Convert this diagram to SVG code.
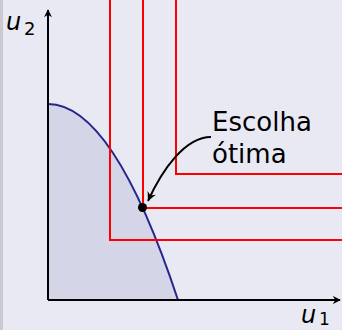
<svg xmlns="http://www.w3.org/2000/svg" width="342" height="330" viewBox="0 0 342 330">
<defs>
<style>
.red{fill:none;stroke:#ff0000;stroke-width:2}
.ax{fill:none;stroke:#000;stroke-width:2}
.t{font-family:"DejaVu Sans",sans-serif;fill:#000}
</style>
<marker id="ah" viewBox="0 0 10 10" refX="9" refY="5" markerWidth="8" markerHeight="8" orient="auto" markerUnits="userSpaceOnUse">
<path d="M0,0 L10,5 L0,10 L3,5 z" fill="#000"/>
</marker>
<marker id="ah2" viewBox="0 0 12 12" refX="10" refY="6" markerWidth="12" markerHeight="12" orient="auto" markerUnits="userSpaceOnUse">
<path d="M1,1.5 L10,6 L1,10.5 L4,6 z" fill="#000"/>
</marker>
</defs>
<rect x="0" y="0" width="342" height="330" fill="#e9e9f3"/>
<rect x="0" y="0" width="3" height="330" fill="#c9c9cf"/>
<g id="region">
<path d="M48,104 Q113,104 178,300 L48,300 Z" fill="#d4d5e7"/>
<path d="M48,104 Q113,104 178,300" fill="none" stroke="#26268c" stroke-width="2"/>
</g>
<g id="indifference">
<path class="red" d="M110,0 V240 H342"/>
<path class="red" d="M143,0 V208 H342"/>
<path class="red" d="M176,0 V174 H342"/>
</g>
<g id="axes">
<path class="ax" d="M48,300 V10" marker-end="url(#ah)"/>
<path class="ax" d="M48,300 H340" marker-end="url(#ah)"/>
</g>
<g id="point">
<circle cx="142.5" cy="207.5" r="4.5" fill="#000"/>
</g>
<g id="connectors">
<path d="M211,137 C185,137 162,170 148,201" fill="none" stroke="#000" stroke-width="2" marker-end="url(#ah2)"/>
</g>
<g id="labels">
<text class="t" x="212" y="131" font-size="26">Escolha</text>
<text class="t" x="212" y="163" font-size="26">ótima</text>
<text class="t" x="6" y="30" font-size="24" font-style="italic">u</text>
<text class="t" x="24" y="35" font-size="18">2</text>
<text class="t" x="301" y="323" font-size="24" font-style="italic">u</text>
<text class="t" x="319" y="325" font-size="17">1</text>
</g>
</svg>
